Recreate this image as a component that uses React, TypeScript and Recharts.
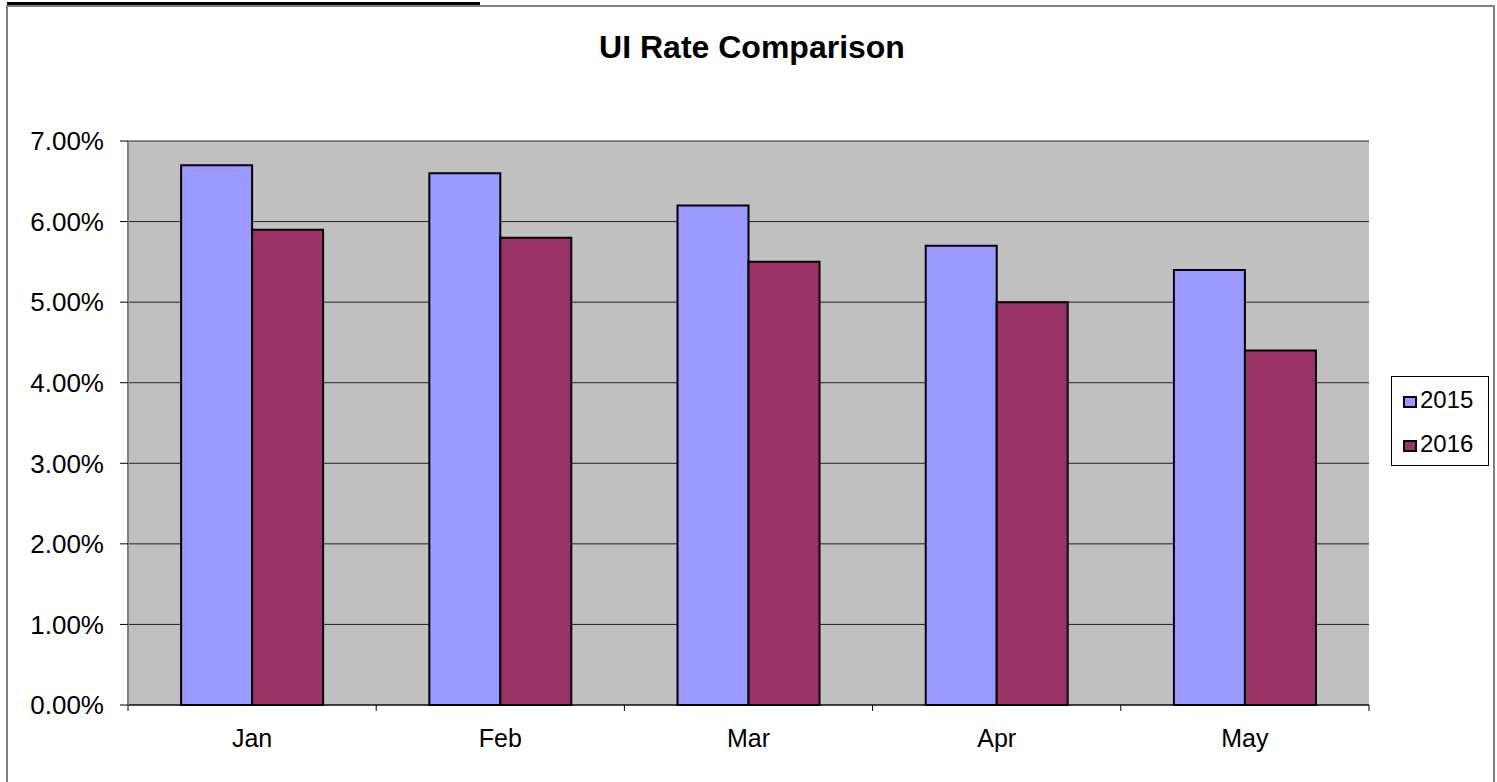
import React from 'react';
import { BarChart, Bar, XAxis, YAxis, CartesianGrid, Legend } from 'recharts';

const months = ['Jan', 'Feb', 'Mar', 'Apr', 'May'];
const rate2015 = [0.067, 0.066, 0.062, 0.057, 0.054];
const rate2016 = [0.059, 0.058, 0.055, 0.05, 0.044];
const yTicks = [0, 0.01, 0.02, 0.03, 0.04, 0.05, 0.06, 0.07];
const boundaryTicks = [0, 1, 2, 3, 4, 5];
const seriesNames = ['2015', '2016'];

const data = months.map((m, i) => ({ month: m, idx: i + 0.5, y2015: rate2015[i], y2016: rate2016[i] }));

const FONT = '"Liberation Sans", Arial, Helvetica, sans-serif';

const fmtPct = (v: number) => (v * 100).toFixed(2) + '%';

const renderLegend = (props: any) => {
  const payload = props.payload || [];
  return (
    <div
      style={{
        width: 98,
        height: 90,
        border: '1px solid #000',
        background: '#fff',
        fontFamily: FONT,
        fontSize: 24,
        color: '#000',
        paddingTop: 11,
        boxSizing: 'border-box',
      }}
    >
      {payload.map((p: any, i: number) => (
        <div key={i} style={{ display: 'flex', alignItems: 'center', height: 24, marginBottom: 20, paddingLeft: 11 }}>
          <span
            style={{
              display: 'inline-block',
              width: 10,
              height: 8,
              background: p.color,
              border: '2px solid #000',
              marginRight: 3,
              marginTop: 3,
            }}
          />
          <span style={{ lineHeight: '24px' }}>{p.value}</span>
        </div>
      ))}
    </div>
  );
};

export default function App() {
  return (
    <div
      style={{
        position: 'absolute',
        left: 0,
        top: 0,
        width: 1497,
        height: 782,
        overflow: 'hidden',
        background: '#fff',
        fontFamily: FONT,
      }}
    >
      <div style={{ position: 'absolute', left: 7, top: 2, width: 473, height: 3, background: '#000' }} />
      <div
        style={{
          position: 'absolute',
          left: 6,
          top: 5,
          width: 1485,
          height: 800,
          borderTop: '2px solid #808080',
          borderLeft: '2px solid #808080',
          borderRight: '2px solid #808080',
        }}
      />
      <div
        style={{
          position: 'absolute',
          left: 0,
          top: 30,
          width: 1504,
          textAlign: 'center',
          fontSize: 32,
          fontWeight: 'bold',
          lineHeight: '34px',
          color: '#000',
        }}
      >
        UI Rate Comparison
      </div>
      <div style={{ position: 'absolute', left: 0, top: 0 }}>
        <BarChart
          width={1497}
          height={782}
          data={data}
          margin={{ top: 141, right: 128, left: 28, bottom: 75 }}
          barCategoryGap="21.4%"
          barGap={0}
        >
          <CartesianGrid vertical={false} fill="#C0C0C0" stroke="#222" strokeWidth={1} yAxisId="left" xAxisId="cat" />
          <XAxis
            xAxisId="bounds"
            dataKey="idx"
            type="number"
            domain={[0, 5]}
            ticks={boundaryTicks}
            height={1}
            tickFormatter={() => ''}
            tick={{ fontSize: 1 }}
            tickSize={6}
            axisLine={{ stroke: '#000', strokeWidth: 1 }}
            tickLine={{ stroke: '#000', strokeWidth: 1 }}
            interval={0}
          />
          <XAxis
            xAxisId="cat"
            dataKey="month"
            height={1}
            axisLine={false}
            tickLine={false}
            tickSize={6}
            tickMargin={17}
            interval={0}
            tick={{ fill: '#000', fontSize: 25, fontFamily: FONT }}
          />
          <YAxis
            yAxisId="left"
            width={100}
            domain={[0, 0.07]}
            ticks={yTicks}
            tickFormatter={fmtPct}
            tickSize={8}
            tickMargin={16}
            axisLine={{ stroke: '#808080', strokeWidth: 2 }}
            tickLine={{ stroke: '#000', strokeWidth: 1 }}
            tick={{ fill: '#000', fontSize: 26, fontFamily: FONT }}
            interval={0}
          />
          <YAxis
            yAxisId="right"
            orientation="right"
            width={0}
            domain={[0, 0.07]}
            tick={false}
            tickLine={false}
            axisLine={{ stroke: '#999', strokeWidth: 2 }}
          />
          <Legend
            layout="vertical"
            align="center"
            verticalAlign="middle"
            content={renderLegend}
            wrapperStyle={{ position: 'absolute', left: 1391, top: 376, width: 98, height: 90 }}
          />
          <Bar
            xAxisId="cat"
            yAxisId="left"
            dataKey="y2015"
            name={seriesNames[0]}
            fill="#9999FF"
            stroke="#000"
            strokeWidth={2}
            isAnimationActive={false}
          />
          <Bar
            xAxisId="cat"
            yAxisId="left"
            dataKey="y2016"
            name={seriesNames[1]}
            fill="#993366"
            stroke="#000"
            strokeWidth={2}
            isAnimationActive={false}
          />
        </BarChart>
      </div>
    </div>
  );
}
